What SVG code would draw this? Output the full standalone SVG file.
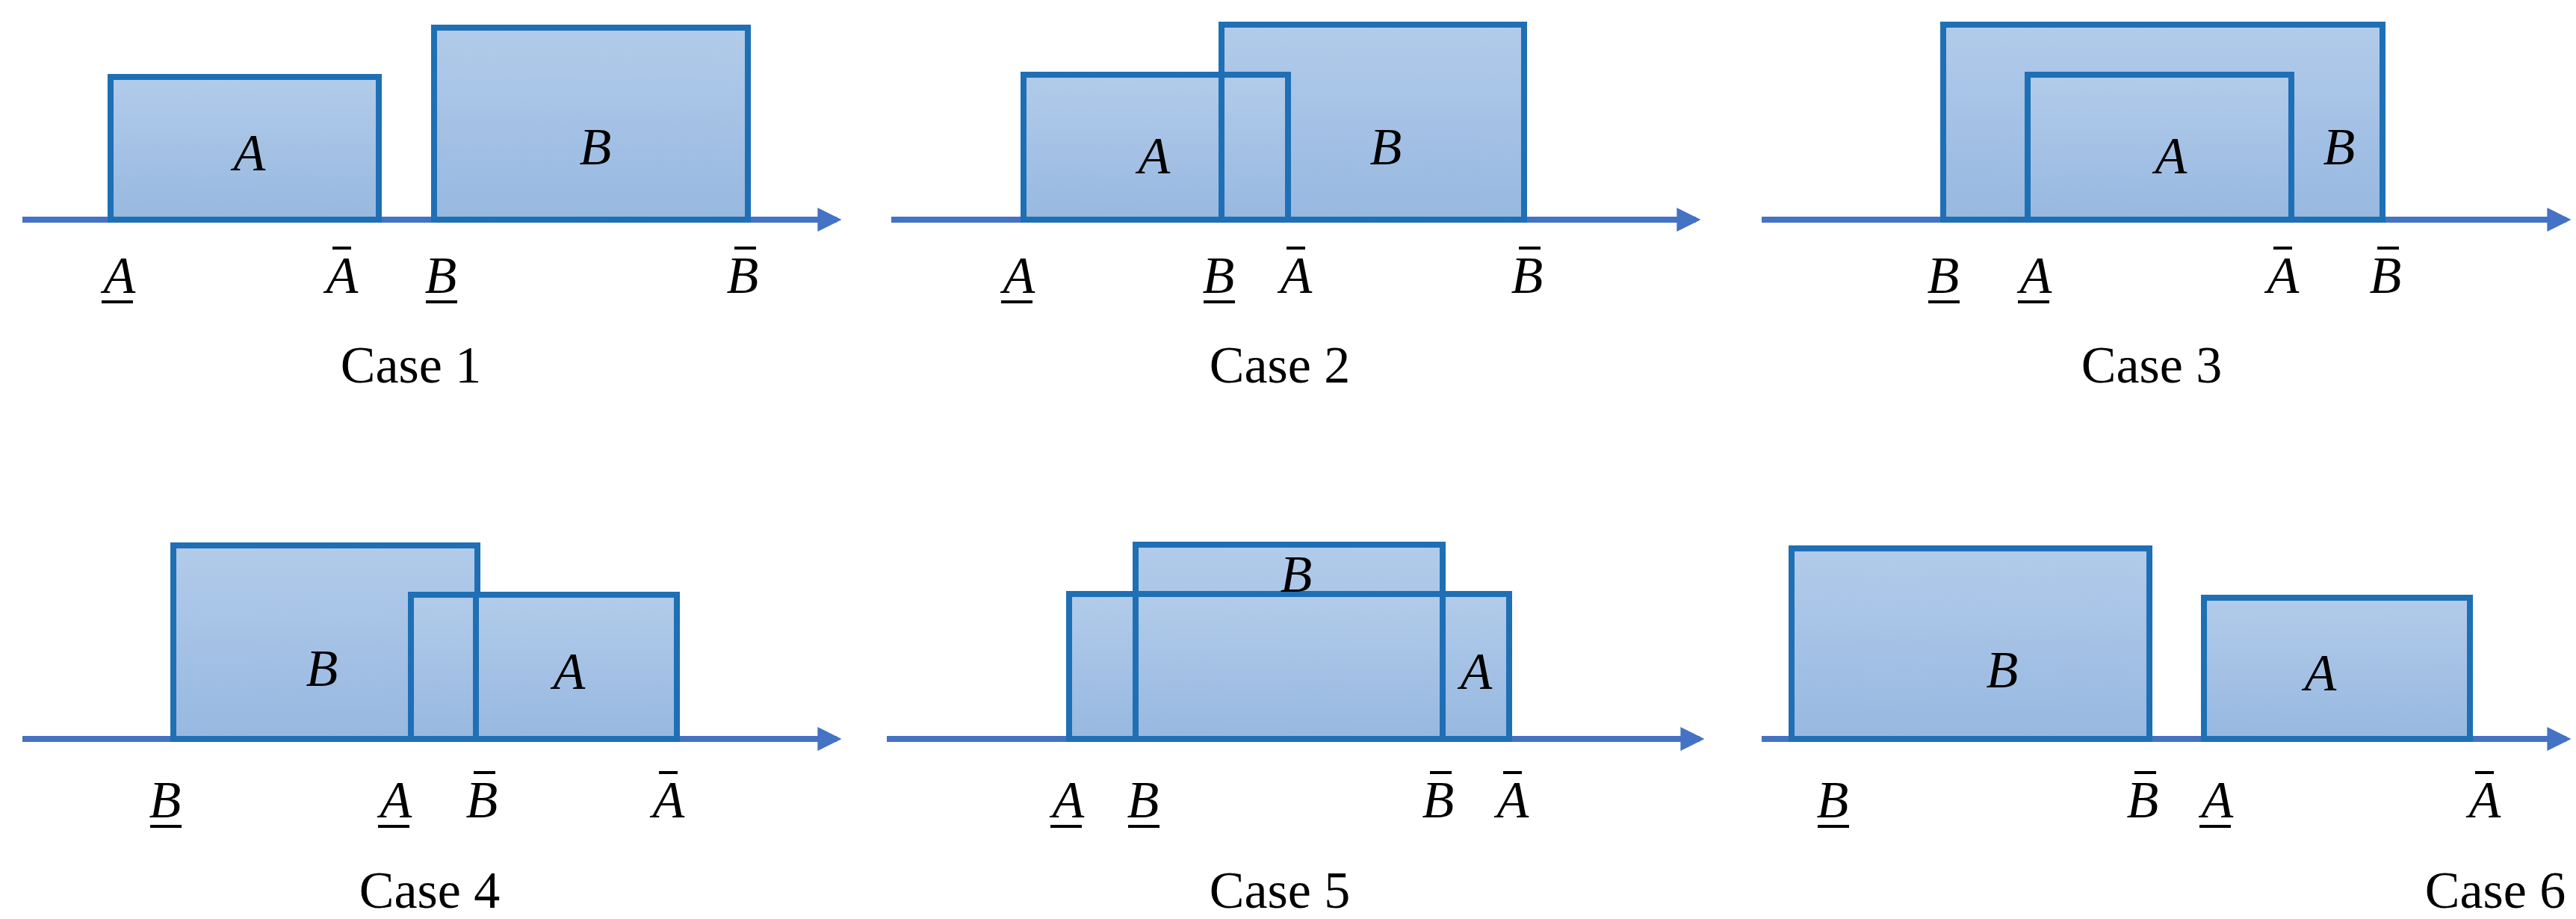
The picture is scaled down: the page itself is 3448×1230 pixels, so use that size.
<svg xmlns="http://www.w3.org/2000/svg" width="3448" height="1230" viewBox="0 0 3448 1230">
<defs>
<linearGradient id="g" x1="0" y1="0" x2="0" y2="1"><stop offset="0" stop-color="#b2cbea"/><stop offset="1" stop-color="#97b8e0"/></linearGradient>
<marker id="arr" viewBox="0 0 10 10" refX="8" refY="5" markerWidth="4" markerHeight="5" orient="auto" markerUnits="strokeWidth"><path d="M0,0 L10,5 L0,10 z" fill="#4472c4"/></marker>
<style>
.box{fill:url(#g);stroke:#1f6fb5;stroke-width:8}
.ax{stroke:#4472c4;stroke-width:8;fill:none;marker-end:url(#arr)}
.e{stroke:#1f6fb5;stroke-width:8}
.v{font-family:"Liberation Serif",serif;font-style:italic;font-size:70px;fill:#000;text-anchor:middle}
.c{font-family:"Liberation Serif",serif;font-size:70px;fill:#000;text-anchor:middle}
.m{stroke:#000;stroke-width:4}
</style>
</defs>
<g id="connectors">
<line class="ax" x1="30" y1="294" x2="1120" y2="294"/>
<line class="ax" x1="1193" y1="294" x2="2270" y2="294"/>
<line class="ax" x1="2358" y1="294" x2="3435" y2="294"/>
<line class="ax" x1="30" y1="989" x2="1120" y2="989"/>
<line class="ax" x1="1187" y1="989" x2="2275" y2="989"/>
<line class="ax" x1="2358" y1="989" x2="3435" y2="989"/>
</g>
<g id="case1">
<rect class="box" x="148" y="103" width="359" height="191"/>
<rect class="box" x="581" y="37" width="420" height="257"/>
<text class="v" x="334" y="228">A</text><text class="v" x="797" y="220">B</text>
<text class="v" x="160" y="392">A</text><line class="m" x1="136" y1="404" x2="178" y2="404"/>
<text class="v" x="458" y="392">A</text><line class="m" x1="445" y1="332" x2="470" y2="332"/>
<text class="v" x="590" y="392">B</text><line class="m" x1="570" y1="404" x2="612" y2="404"/>
<text class="v" x="994" y="392">B</text><line class="m" x1="983" y1="332" x2="1012" y2="332"/>
<text class="c" x="550" y="512">Case 1</text>
</g>
<g id="case2">
<rect class="box" x="1635" y="33" width="405" height="261"/>
<rect class="box" x="1370" y="100" width="354" height="194"/>
<line class="e" x1="1635" y1="100" x2="1635" y2="294"/>
<text class="v" x="1545" y="232">A</text><text class="v" x="1855" y="220">B</text>
<text class="v" x="1364" y="392">A</text><line class="m" x1="1340" y1="404" x2="1382" y2="404"/>
<text class="v" x="1631" y="392">B</text><line class="m" x1="1611" y1="404" x2="1653" y2="404"/>
<text class="v" x="1735" y="392">A</text><line class="m" x1="1722" y1="332" x2="1747" y2="332"/>
<text class="v" x="2044" y="392">B</text><line class="m" x1="2033" y1="332" x2="2062" y2="332"/>
<text class="c" x="1713" y="512">Case 2</text>
</g>
<g id="case3">
<rect class="box" x="2601" y="33" width="588" height="261"/>
<rect class="box" x="2714" y="100" width="353" height="194"/>
<text class="v" x="2906" y="232">A</text><text class="v" x="3131" y="220">B</text>
<text class="v" x="2601" y="392">B</text><line class="m" x1="2581" y1="404" x2="2623" y2="404"/>
<text class="v" x="2725" y="392">A</text><line class="m" x1="2701" y1="404" x2="2743" y2="404"/>
<text class="v" x="3056" y="392">A</text><line class="m" x1="3043" y1="332" x2="3068" y2="332"/>
<text class="v" x="3193" y="392">B</text><line class="m" x1="3182" y1="332" x2="3211" y2="332"/>
<text class="c" x="2880" y="512">Case 3</text>
</g>
<g id="case4">
<rect class="box" x="232" y="730" width="407" height="259"/>
<rect class="box" x="550" y="796" width="356" height="193"/>
<line class="e" x1="637" y1="796" x2="637" y2="989"/>
<text class="v" x="431" y="918">B</text><text class="v" x="762" y="922">A</text>
<text class="v" x="221" y="1094">B</text><line class="m" x1="201" y1="1106" x2="243" y2="1106"/>
<text class="v" x="530" y="1094">A</text><line class="m" x1="506" y1="1106" x2="548" y2="1106"/>
<text class="v" x="645" y="1094">B</text><line class="m" x1="634" y1="1034" x2="663" y2="1034"/>
<text class="v" x="895" y="1094">A</text><line class="m" x1="882" y1="1034" x2="907" y2="1034"/>
<text class="c" x="575" y="1215">Case 4</text>
</g>
<g id="case5">
<rect class="box" x="1520" y="729" width="411" height="260"/>
<rect class="box" x="1431" y="795" width="589" height="194"/>
<line class="e" x1="1520" y1="795" x2="1520" y2="989"/>
<line class="e" x1="1931" y1="795" x2="1931" y2="989"/>
<text class="v" x="1735" y="792">B</text><text class="v" x="1976" y="922">A</text>
<text class="v" x="1430" y="1094">A</text><line class="m" x1="1406" y1="1106" x2="1448" y2="1106"/>
<text class="v" x="1530" y="1094">B</text><line class="m" x1="1510" y1="1106" x2="1552" y2="1106"/>
<text class="v" x="1925" y="1094">B</text><line class="m" x1="1914" y1="1034" x2="1943" y2="1034"/>
<text class="v" x="2025" y="1094">A</text><line class="m" x1="2012" y1="1034" x2="2037" y2="1034"/>
<text class="c" x="1713" y="1215">Case 5</text>
</g>
<g id="case6">
<rect class="box" x="2398" y="734" width="479" height="255"/>
<rect class="box" x="2950" y="800" width="356" height="189"/>
<text class="v" x="2680" y="920">B</text><text class="v" x="3106" y="924">A</text>
<text class="v" x="2453" y="1094">B</text><line class="m" x1="2433" y1="1106" x2="2475" y2="1106"/>
<text class="v" x="2868" y="1094">B</text><line class="m" x1="2857" y1="1034" x2="2886" y2="1034"/>
<text class="v" x="2968" y="1094">A</text><line class="m" x1="2944" y1="1106" x2="2986" y2="1106"/>
<text class="v" x="3326" y="1094">A</text><line class="m" x1="3313" y1="1034" x2="3338" y2="1034"/>
<text class="c" x="3340" y="1215">Case 6</text>
</g>
</svg>
